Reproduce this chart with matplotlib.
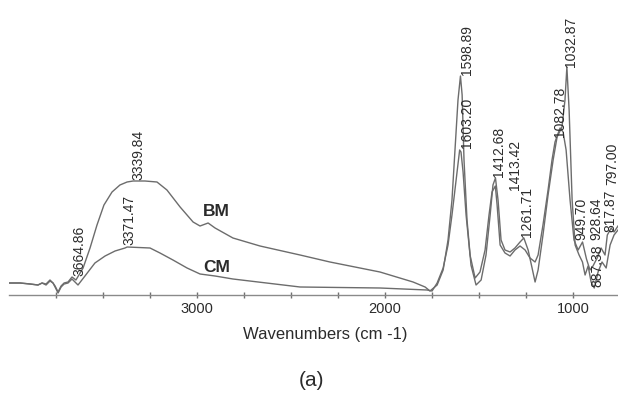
import numpy as np
import matplotlib.pyplot as plt

plt.rcParams['font.family'] = ['Liberation Sans', 'DejaVu Sans']

# ---------------------------------------------------------------------------
# FTIR spectra (absorbance, arbitrary units)
# ---------------------------------------------------------------------------
bm_wn = [4000, 3941, 3888, 3846, 3824, 3803, 3782, 3766, 3755, 3739, 3723,
         3707, 3686, 3664.86, 3644, 3606, 3569, 3532, 3495, 3452, 3410, 3372,
         3339.84, 3277, 3213, 3160, 3090, 3021, 2984, 2941, 2904, 2809, 2665,
         2452, 2293, 2027, 1851, 1787, 1761,
         1723, 1691, 1665, 1644, 1628, 1612, 1598.89, 1590, 1580, 1564, 1543,
         1516, 1489, 1463, 1441, 1426, 1412.68, 1399, 1383, 1362, 1335, 1309,
         1282, 1261.71, 1239, 1218, 1202, 1186, 1160, 1133, 1106, 1085, 1059,
         1043, 1032.87, 1021, 1005, 989, 968, 950, 936, 920, 904, 887.38, 867,
         846, 824, 803, 782, 761]
bm_abs = [0.12, 0.12, 0.11, 0.10, 0.12, 0.11, 0.15, 0.12, 0.09, 0.03, 0.09,
          0.12, 0.13, 0.18, 0.15, 0.27, 0.47, 0.70, 0.90, 1.03, 1.10, 1.13,
          1.14, 1.14, 1.13, 1.05, 0.88, 0.73, 0.69, 0.72, 0.67, 0.57, 0.49,
          0.40, 0.33, 0.23, 0.13, 0.08, 0.04,
          0.10, 0.25, 0.55, 0.95, 1.45, 1.95, 2.19, 2.00, 1.35, 0.75, 0.30,
          0.10, 0.15, 0.40, 0.80, 1.10, 1.17, 0.95, 0.55, 0.45, 0.43, 0.47,
          0.53, 0.57, 0.45, 0.27, 0.13, 0.25, 0.60, 1.00, 1.35, 1.58, 1.68,
          1.95, 2.28, 1.85, 0.95, 0.50, 0.40, 0.33, 0.20, 0.29, 0.13, 0.07,
          0.23, 0.33, 0.27, 0.50, 0.60, 0.65]

cm_wn = [4000, 3941, 3888, 3846, 3824, 3803, 3782, 3766, 3755, 3739, 3723,
         3707, 3686, 3665, 3633, 3596, 3543, 3489, 3436, 3383, 3371.47, 3250,
         3197, 3128, 3053, 2984, 2904, 2809, 2452, 2027, 1777,
         1750, 1723, 1691, 1665, 1644, 1622, 1603.20, 1596, 1585, 1569, 1548,
         1521, 1495, 1468, 1447, 1431, 1413.42, 1404, 1388, 1362, 1335, 1309,
         1282, 1255, 1229, 1202, 1186, 1160, 1133, 1112, 1096, 1082.78, 1069,
         1053, 1037, 1016, 995, 973, 949.70, 928.64, 910, 894, 872, 851, 830,
         817.87, 797.00, 782, 761]
cm_abs = [0.12, 0.12, 0.11, 0.10, 0.12, 0.10, 0.14, 0.12, 0.08, 0.02, 0.08,
          0.11, 0.12, 0.16, 0.10, 0.19, 0.32, 0.39, 0.44, 0.47, 0.48, 0.47,
          0.42, 0.35, 0.27, 0.21, 0.19, 0.16, 0.08, 0.07, 0.05,
          0.04, 0.12, 0.27, 0.50, 0.80, 1.15, 1.45, 1.43, 1.23, 0.80, 0.40,
          0.17, 0.23, 0.45, 0.80, 1.03, 1.09, 0.90, 0.50, 0.42, 0.39, 0.45,
          0.49, 0.45, 0.37, 0.33, 0.40, 0.70, 1.05, 1.35, 1.53, 1.60, 1.67,
          1.63, 1.45, 0.95, 0.55, 0.45, 0.53, 0.36, 0.25, 0.29, 0.37, 0.47,
          0.40, 0.60, 0.67, 0.63, 0.69]

# peak labels: text, wavenumber, which spectrum
peak_text = ['3664.86', '3339.84', '3371.47', '1598.89', '1603.20', '1413.42',
             '1412.68', '1261.71', '1082.78', '1032.87', '949.70', '928.64',
             '887.38', '817.87', '797.00']
peak_wn = [3664.86, 3339.84, 3371.47, 1598.89, 1603.20, 1413.42, 1412.68,
           1261.71, 1082.78, 1032.87, 949.70, 928.64, 887.38, 817.87, 797.00]
peak_src = ['BM', 'BM', 'CM', 'BM', 'CM', 'CM', 'BM', 'BM', 'CM', 'BM', 'CM',
            'CM', 'BM', 'CM', 'CM']

# label offsets in pixels (layout only)
label_offsets = [(7, 1), (5, 1), (2, 2), (7, 1), (7, 2), (20, -4), (4, 1),
                 (3, 1), (3, -2), (4, 0), (-1, 2), (10, 19), (3, 1), (3, 3),
                 (1, 43)]

line_col = '#6c6c6c'
text_col = '#2b2b2b'

fig = plt.figure(figsize=(6.18, 3.93), dpi=100)
ax = fig.add_axes([9 / 618, 98 / 393, 609 / 618, 295 / 393])

spectra = {'BM': (bm_wn, bm_abs), 'CM': (cm_wn, cm_abs)}
for key, (wn, ab) in spectra.items():
    ax.plot(wn, ab, color=line_col, linewidth=1.0)

for txt, w, src, (dx, dy) in zip(peak_text, peak_wn, peak_src, label_offsets):
    wn, ab = spectra[src]
    val = np.interp(w, wn[::-1], ab[::-1])
    ax.annotate(txt, xy=(w, val), xytext=(dx, dy), textcoords='offset pixels',
                rotation=90, ha='center', va='bottom', fontsize=10,
                color=text_col)

ax.text(2897, 0.84, 'BM', fontsize=12.5, fontweight='bold', color=text_col,
        ha='center', va='center')
ax.text(2897, 0.27, 'CM', fontsize=12.5, fontweight='bold', color=text_col,
        ha='center', va='center')

ax.set_xlim(4000, 761)
ax.set_ylim(0, 2.95)
for s in ['top', 'right', 'left']:
    ax.spines[s].set_visible(False)
ax.spines['bottom'].set_color('#8a8a8a')
ax.spines['bottom'].set_linewidth(1.0)
ax.set_yticks([])
ax.set_xticks([1000, 2000, 3000])
ax.set_xticklabels(['1000', '2000', '3000'])
ax.set_xticks(np.arange(1000, 4000, 250), minor=True)
ax.tick_params(axis='x', which='both', direction='inout', length=4,
               width=1.0, color='#707070', labelsize=10.5, labelcolor=text_col,
               pad=3)

fig.text(325 / 618, 1 - 335 / 393, 'Wavenumbers (cm -1)', fontsize=12,
         color=text_col, ha='center', va='center')
fig.text(311 / 618, 1 - 380 / 393, '(a)', fontsize=15, color=text_col,
         ha='center', va='center')

fig.savefig('out.png', dpi=100)
